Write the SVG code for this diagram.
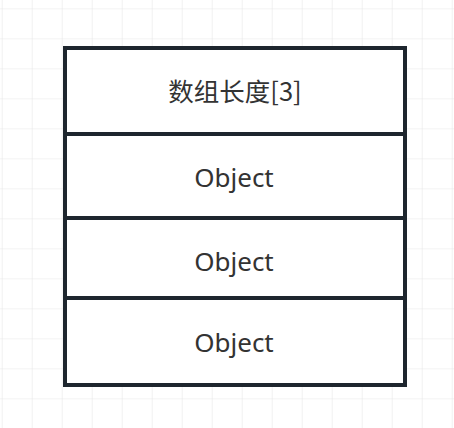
<svg xmlns="http://www.w3.org/2000/svg" width="454" height="428" viewBox="0 0 454 428">
<defs>
<pattern id="grid" x="1.7" y="8.3" width="30" height="30" patternUnits="userSpaceOnUse">
<path d="M0 0 H30 M0 0 V30" fill="none" stroke="#e8e8e8" stroke-width="1.2"/>
</pattern>
</defs>
<style>
.cell{fill:#ffffff;stroke:#1e262e;stroke-width:4}
.div{stroke:#1e262e;stroke-width:4}
.t{font-family:"Noto Sans","Noto Sans CJK SC",sans-serif;font-size:26px;fill:#333333;text-anchor:middle}
.tc{font-family:"Noto Sans CJK SC","Noto Sans",sans-serif;font-size:25.5px;fill:#333333;text-anchor:middle}
</style>
<rect width="454" height="428" fill="#ffffff"/>
<rect width="454" height="428" fill="url(#grid)"/>
<g id="array">
<rect class="cell" x="65" y="48" width="340" height="337"/>
</g>
<g id="connectors">
<line class="div" x1="65" y1="134" x2="405" y2="134"/>
<line class="div" x1="65" y1="218" x2="405" y2="218"/>
<line class="div" x1="65" y1="298" x2="405" y2="298"/>
</g>
<g id="length"><text class="tc" x="235" y="101">数组长度[3]</text></g>
<g id="obj1"><text class="t" x="234" y="187">Object</text></g>
<g id="obj2"><text class="t" x="234" y="271">Object</text></g>
<g id="obj3"><text class="t" x="234" y="352">Object</text></g>
</svg>
